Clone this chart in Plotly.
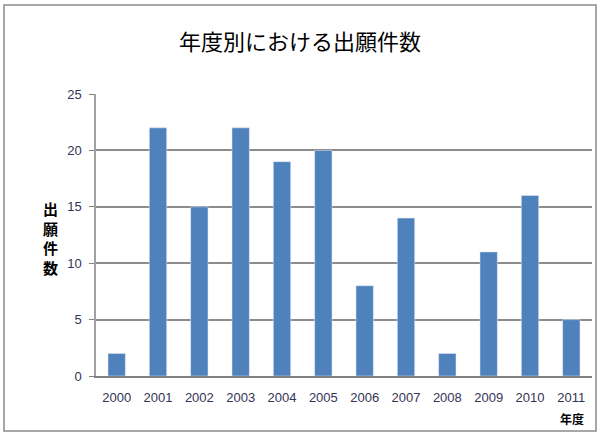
import plotly.graph_objects as go

years = ["2000", "2001", "2002", "2003", "2004", "2005", "2006", "2007", "2008", "2009", "2010", "2011"]
counts = [2, 22, 15, 22, 19, 20, 8, 14, 2, 11, 16, 5]
y_ticks = [0, 5, 10, 15, 20, 25]

W, H = 600, 440
L, R, T, B = 96, 8, 94, 64
pw, ph = W - L - R, H - T - B

fig = go.Figure()
fig.add_trace(go.Bar(x=years, y=counts, marker_color="#4F81BD", width=0.42))

jp = "Noto Sans CJK JP"
tickfont = dict(family="Liberation Sans Narrow, Liberation Sans", size=13, color="#333355")

fig.update_layout(
    width=W, height=H,
    margin=dict(l=L, r=R, t=T, b=B),
    plot_bgcolor="white", paper_bgcolor="white",
    showlegend=False,
    title=dict(text="年度別における出願件数", x=0.5, xanchor="center", y=1 - 42 / H, yanchor="middle",
               font=dict(family=jp, size=22, color="black")),
    xaxis=dict(type="category", showgrid=False, showline=True, linecolor="#808080", linewidth=2,
               ticks="", tickfont=tickfont, ticklabelstandoff=8),
    yaxis=dict(range=[0, 25], tickvals=y_ticks, showgrid=True, gridcolor="#8c8c8c", gridwidth=1.5,
               showline=True, linecolor="#a0a0a0", linewidth=1.5, ticks="outside", ticklen=5,
               tickcolor="#808080", tickfont=tickfont, zeroline=False, ticklabelstandoff=5),
    annotations=[
        dict(text="<b>出<br>願<br>件<br>数</b>", xref="paper", yref="paper",
             x=(50 - L) / pw, y=(H - B - 238) / ph, showarrow=False,
             font=dict(family=jp, size=15, color="black"), xanchor="center", yanchor="middle"),
        dict(text="<b>年度</b>", xref="paper", yref="paper",
             x=(572 - L) / pw, y=(H - B - 418) / ph, showarrow=False,
             font=dict(family=jp, size=12, color="black"), xanchor="center", yanchor="middle"),
    ],
    shapes=[
        dict(type="rect", xref="paper", yref="paper",
             x0=(4 - L) / pw, x1=(596 - L) / pw, y0=(H - B - 431) / ph, y1=(H - B - 5) / ph,
             line=dict(color="#8a8a8a", width=1.5)),
    ],
)

fig.write_html("out.html", config={"displayModeBar": False},
               post_script="document.body.style.margin='0';")
